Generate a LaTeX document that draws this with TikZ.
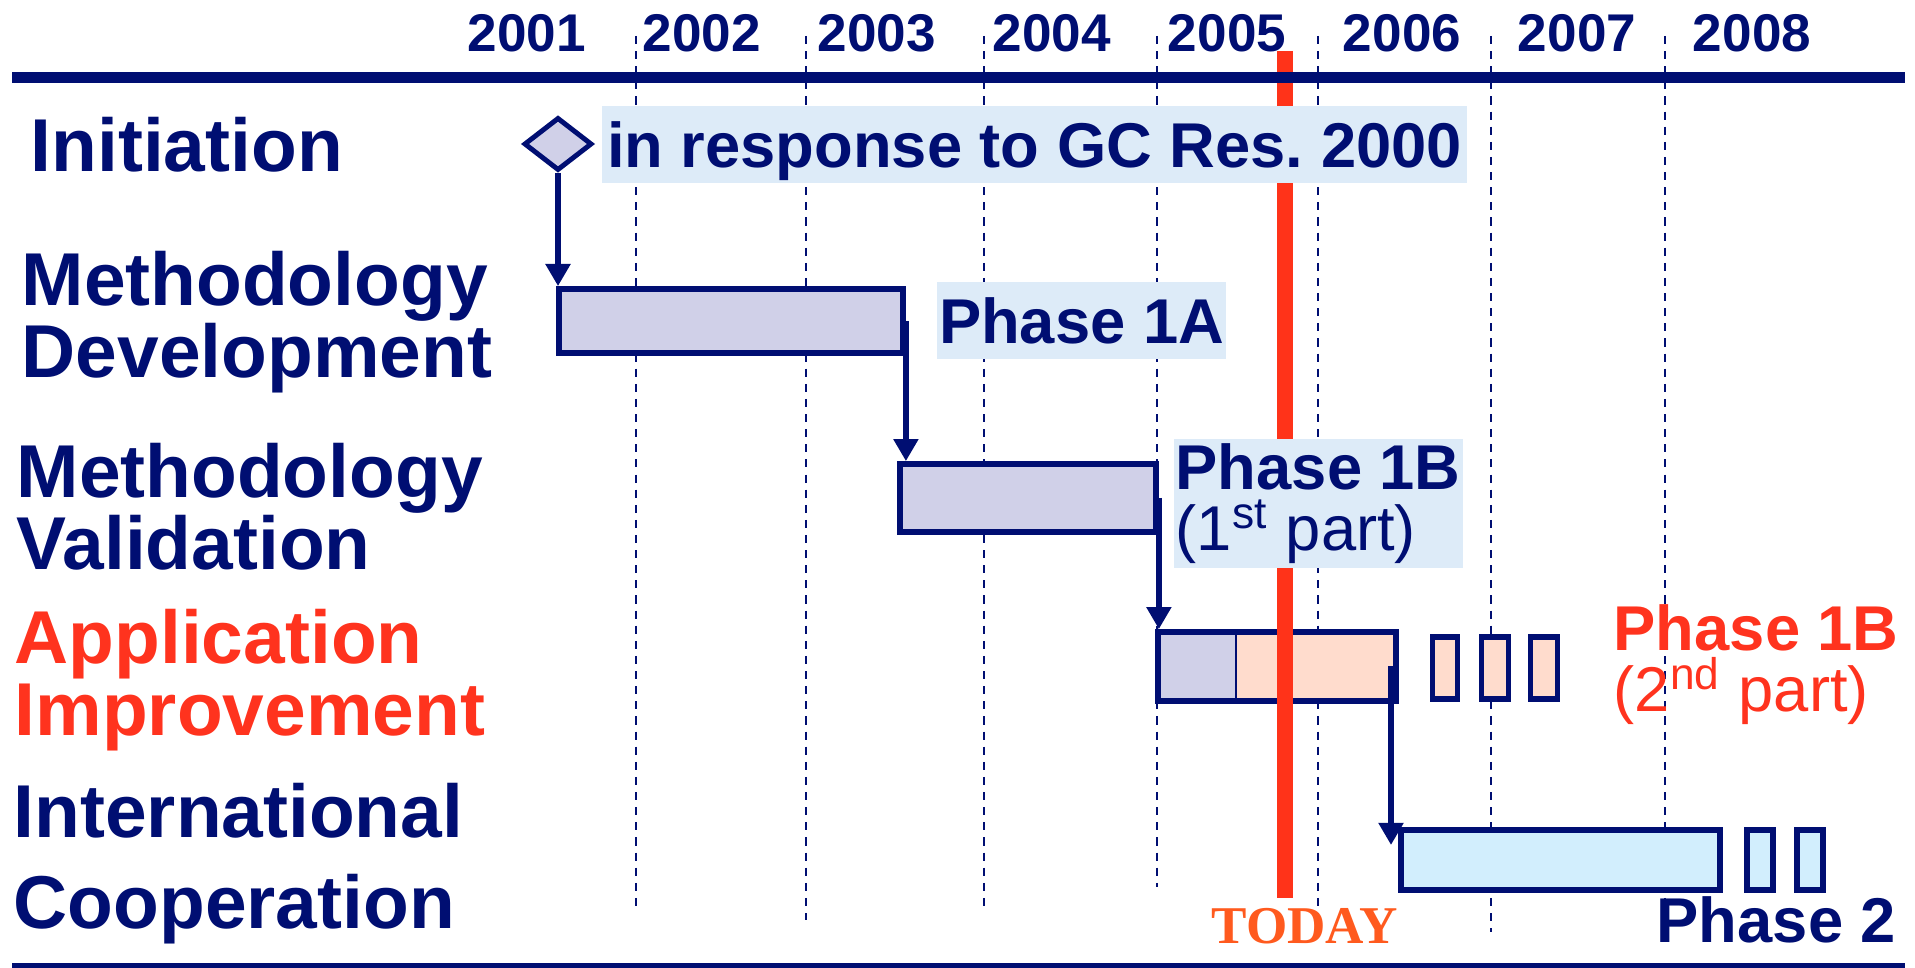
\documentclass[tikz,border=0pt]{standalone}
\usepackage{fontspec}
\setmainfont{Liberation Sans}
\newfontfamily\todayface{Liberation Serif}
\usetikzlibrary{arrows.meta, shapes.geometric}

\definecolor{navy}{RGB}{0,14,114}
\definecolor{lav}{RGB}{208,208,232}
\definecolor{peach}{RGB}{255,220,205}
\definecolor{skyfill}{RGB}{210,238,253}
\definecolor{lblfill}{RGB}{221,235,248}
\definecolor{todayred}{RGB}{255,51,25}
\definecolor{apptext}{RGB}{255,51,30}
\definecolor{todaytext}{RGB}{255,90,30}

\begin{document}
\begin{tikzpicture}[
  x=0.01cm, y=-0.01cm,
  yearlbl/.style={anchor=base, inner sep=0pt, text=navy, font=\fontsize{15.1}{18}\selectfont\bfseries},
  rowlbl/.style={anchor=north west, inner sep=0pt, align=left, text=navy, font=\fontsize{21.3}{20.2}\selectfont\bfseries},
  yeargrid/.style={navy, line width=0.6pt, dash pattern=on 2.3pt off 2pt},
  axisline/.style={navy, line width=#1},
  barbox/.style={draw=navy, line width=1.6pt, inner sep=0pt},
  arr/.style={navy, line width=1.85pt, -{Triangle[width=6.8pt,length=6.3pt]}},
  tagbox/.style={fill=lblfill, inner sep=0pt, text=navy, font=\fontsize{18}{18}\selectfont\bfseries, text height=0.46cm, text depth=0pt, minimum height=0.77cm},
  phase/.style={anchor=north west, inner sep=0pt, align=left, font=\fontsize{18}{17.36}\selectfont},
]
\useasboundingbox (0,0) rectangle (1915,968);

\foreach \x/\yb in {636/913, 806/920, 984/910, 1157/887, 1318/928, 1491/932, 1665/900}
  \draw[yeargrid] (\x,36) -- (\x,\yb);

\foreach \yr [count=\i from 0] in {2001,...,2008}
  \node[yearlbl] (y\yr) at ({527+175*\i},52) {\yr};

\node[barbox, fill=peach, minimum width=2.38cm, minimum height=0.69cm,
  path picture={\fill[lav] (path picture bounding box.south west) rectangle ([xshift=0.78cm]path picture bounding box.north west);
    \draw[navy, line width=0.6pt] ([xshift=0.78cm]path picture bounding box.south west) -- ([xshift=0.78cm]path picture bounding box.north west);}] (app) at (1277,666.5) {};

\draw[todayred, line width=4.55pt] (1285,51) -- (1285,898);
\draw[axisline=3.1pt] (12,77.5) -- (1905,77.5);
\draw[axisline=1.5pt] (12,965.5) -- (1905,965.5);

\node[rowlbl, anchor=base west] (rowinit) at (30,172) {Initiation};
\node[rowlbl] (rowdev) at (21,251) {Methodology\\Development};
\node[rowlbl] (rowval) at (16,443) {Methodology\\Validation};
\node[rowlbl, text=apptext] (rowapp) at (14,609) {Application\\Improvement};
\node[rowlbl] (rowcoop) at (13,783) {International\\[5.4pt]Cooperation};

\node[tagbox, minimum width=8.65cm] (resp) at (1034.5,144.5) {in response to GC Res.~2000};
\node[tagbox, minimum width=2.89cm] (p1a) at (1081.5,320.5) {Phase 1A};
\node[phase, fill=lblfill, text=navy, inner xsep=0.02cm, inner ysep=0.045cm] (p1b) at (1173,438) {\textbf{Phase 1B}\\(1\textsuperscript{st} part)};
\node[phase, text=apptext] (p1bb) at (1613,603.5) {\textbf{Phase 1B}\\(2\textsuperscript{nd} part)};
\node[anchor=base west, inner sep=0pt, text=navy, font=\fontsize{18}{18}\selectfont\bfseries] (p2) at (1656,943) {Phase 2};
\node[anchor=base, inner sep=0pt, text=todaytext, font=\todayface\bfseries\fontsize{15.1}{15}\selectfont] (today) at (1304.5,944) {TODAY};

\node[diamond, draw=navy, fill=lav, line width=1.4pt, minimum width=0.68cm, minimum height=0.53cm, inner sep=0pt] (start) at (558,144) {};
\node[barbox, fill=lav, minimum width=3.44cm, minimum height=0.64cm] (dev) at (731,321) {};
\node[barbox, fill=lav, minimum width=2.56cm, minimum height=0.68cm] (val) at (1028,498) {};
\foreach \x/\w [count=\i] in {1445/0.25cm, 1495/0.27cm, 1544/0.27cm}
  \node[barbox, fill=peach, minimum width=\w, minimum height=0.62cm] (appx\i) at (\x,668) {};
\node[barbox, fill=skyfill, minimum width=3.19cm, minimum height=0.60cm] (coop) at (1560.5,860) {};
\foreach \x [count=\i] in {1760,1810}
  \node[barbox, fill=skyfill, minimum width=0.26cm, minimum height=0.60cm] (coopx\i) at (\x,860) {};

\coordinate (p2in) at (1391,845);
\draw[arr] (start.south) -- (start.south |- dev.north);
\draw[arr] (dev.east) -- (dev.east |- val.north);
\draw[arr] (val.east) -- (val.east |- app.north);
\draw[arr] (app.east -| p2in) -- (p2in);
\end{tikzpicture}
\end{document}
